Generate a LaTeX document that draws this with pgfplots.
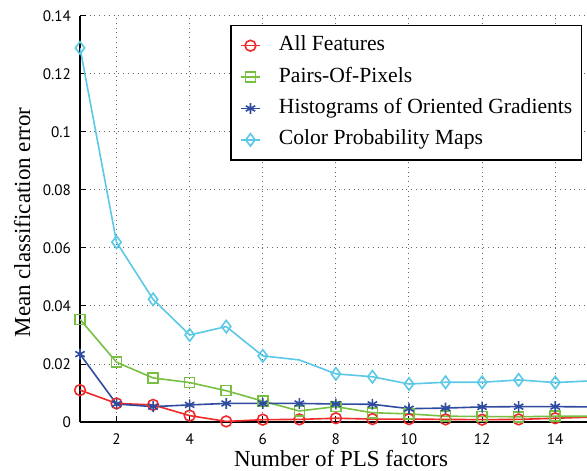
\documentclass[border=0pt]{standalone}
\usepackage{fontspec}
\setmainfont{Liberation Serif}
\newfontfamily\ticksf{PT Sans}
\usepackage{pgfplots}
\pgfplotsset{compat=1.18}
\definecolor{cRed}{RGB}{238,42,42}
\definecolor{cGreen}{RGB}{119,192,67}
\definecolor{cBlue}{RGB}{46,75,160}
\definecolor{cCyan}{RGB}{91,200,230}
\begin{document}
\begin{tikzpicture}
\begin{axis}[
  name=ax,
  width=253.5pt, height=203pt, scale only axis,
  xmin=1, xmax=14.87, ymin=0, ymax=0.14,
  axis lines=left,
  axis line style={-, black, line width=0.6pt},
  xtick={2,4,6,8,10,12,14},
  ytick={0,0.02,0.04,0.06,0.08,0.1,0.12,0.14},
  yticklabels={0,0.02,0.04,0.06,0.08,0.1,0.12,0.14},
  tick align=inside, major tick length=3pt,
  tick style={black, line width=0.5pt},
  grid=major, grid style={dotted, gray!80!black, line width=0.5pt},
  /pgf/number format/assume math mode=true,
  tick label style={font=\ticksf\fontsize{7.6}{9}\selectfont},
  xticklabel style={yshift=-2.5pt},
  yticklabel style={xshift=-1pt},
  xlabel={Number of PLS factors},
  ylabel={Mean classification error},
  label style={font=\fontsize{11.5}{13}\selectfont},
  xlabel style={at={(axis description cs:0.5148,-0.1108)}, anchor=base},
  ylabel style={at={(axis description cs:-0.0986,0.4914)}, anchor=base, rotate=0},
  legend style={at={(axis description cs:1,1)}, anchor=north east,
    xshift=-2.5pt, yshift=-4.5pt, draw=black, line width=0.7pt, fill=white,
    font=\fontsize{10.8}{12}\selectfont, inner xsep=3pt, inner ysep=3.5pt,
    row sep=2.7pt, cells={anchor=west},
    nodes={text height=7.5pt, text depth=2.5pt, inner sep=1.5pt}},
  legend image code/.code={%
    \path[draw=none, fill=none] (-2pt,0pt) -- (17.5pt,0pt);
    \draw[mark=none] (0pt,0pt) -- (9.5pt,0pt);
    \draw plot coordinates {(4.75pt,0pt)};},
  every axis plot/.append style={line width=0.8pt},
]
\addplot[cRed, mark=o, mark size=2.7pt, mark options={solid}] coordinates {
(1,0.0110)(2,0.0064)(3,0.0059)(4,0.0022)(5,0.0002)(6,0.0008)(7,0.0009)(8,0.0013)(9,0.0010)(10,0.0010)(11,0.0009)(12,0.0008)(13,0.0009)(14,0.0013)(15,0.0017)};
\addlegendentry{All Features}
\addplot[cGreen, mark=square, mark size=2.5pt, mark options={solid}] coordinates {
(1,0.0354)(2,0.0206)(3,0.0152)(4,0.0136)(5,0.0108)(6,0.0072)(7,0.0038)(8,0.0053)(9,0.0032)(10,0.0028)(11,0.0020)(12,0.0019)(13,0.0018)(14,0.0020)(15,0.0020)};
\addlegendentry{Pairs-Of-Pixels}
\addplot[cBlue, mark=asterisk, mark size=2.7pt, mark options={solid}] coordinates {
(1,0.0234)(2,0.0062)(3,0.0053)(4,0.0059)(5,0.0064)(6,0.0064)(7,0.0064)(8,0.0062)(9,0.0061)(10,0.0046)(11,0.0048)(12,0.0052)(13,0.0053)(14,0.0053)(15,0.0052)};
\addlegendentry{Histograms of Oriented Gradients}
\addplot[cCyan, mark=diamond, mark size=3.1pt, mark options={solid},
  mark indices={1,2,3,4,5,6,8,9,10,11,12,13,14,15}] coordinates {
(1,0.129)(2,0.062)(3,0.0423)(4,0.0300)(5,0.0329)(6,0.0228)(7,0.0214)(8,0.0166)(9,0.0156)(10,0.0131)(11,0.0137)(12,0.0137)(13,0.0145)(14,0.0136)(15,0.0142)};
\addlegendentry{Color Probability Maps}
\end{axis}
\pgfresetboundingbox
\path[use as bounding box] ([shift={(-40pt,-24pt)}]ax.south west) rectangle ([shift={(0pt,8pt)}]ax.north east);
\end{tikzpicture}
\end{document}
